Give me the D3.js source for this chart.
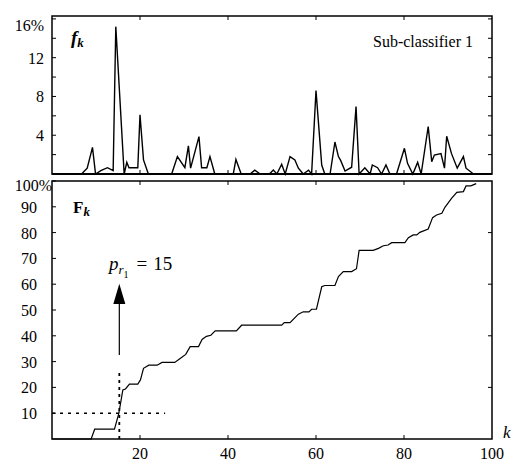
<!DOCTYPE html>
<html>
<head>
<meta charset="utf-8">
<script src="https://cdn.jsdelivr.net/npm/d3@7"></script>
<style>
  body { margin: 0; background: #fff; }
  svg text { font-family: "Liberation Serif", "Times New Roman", Times, "DejaVu Serif", serif; }
</style>
</head>
<body>
<svg id="chart" width="512" height="461"></svg>
<script>
// f_k, sub-classifier 1 (k, percent)
const fK = [1, 6.7, 8.0, 9.2, 9.9, 11.1, 12.6, 13.9, 14.5, 16.4, 17.0, 17.5, 19.5, 20.0, 20.8, 21.9,
  27.2, 28.5, 30.2, 31.0, 31.5, 33.4, 34.0, 35.2, 35.9, 37.0, 41.2, 41.8, 43.0, 45.0, 46.1, 47.3,
  49.4, 50.3, 51.1, 52.2, 53.0, 54.1, 55.2, 56.0, 57.1, 58.3, 59.0, 60.0, 61.3, 62.0, 63.2, 64.3,
  65.1, 65.6, 66.6, 68.1, 69.1, 69.8, 71.1, 72.3, 72.8, 74.0, 74.9, 75.9, 76.8, 78.3, 80.1, 80.8,
  82.0, 83.1, 83.9, 85.5, 86.3, 86.9, 88.4, 89.2, 89.7, 90.8, 92.1, 93.5, 94.1, 95.8];
const fVal = [0, 0, 0.6, 2.75, 0, 0.35, 0.65, 0.35, 15.2, 0, 1.2, 0.65, 0.65, 6.1, 1.45, 0,
  0, 1.8, 0.65, 2.9, 0.6, 3.85, 0.65, 0.65, 1.8, 0, 0, 1.5, 0, 0, 0.4, 0,
  0, 0.4, 0, 1.0, 0, 1.8, 1.45, 0.6, 0, 0.4, 0, 8.6, 0.93, 0, 0, 3.3,
  1.8, 1.4, 0.3, 0.7, 6.95, 0, 0.65, 0, 0.93, 0.65, 0, 0.93, 0, 0, 2.65, 1.1,
  0, 1.2, 0, 4.9, 1.27, 1.96, 2.1, 0.6, 3.9, 2.1, 0.6, 1.8, 0.6, 0];

// F_k cumulative (k, percent)
const FK = [0, 8.9, 9.7, 14.2, 15.2, 16.1, 16.7, 17.6, 19.5, 20.1, 20.8, 22.0, 23.9, 25.0, 27.9,
  29.2, 30.4, 31.4, 33.3, 34.1, 35.1, 36.1, 37.1, 41.9, 43.1, 52.2, 52.8, 54.1, 56.0, 57.1, 58.4,
  59.0, 60.1, 61.3, 62.0, 64.3, 65.1, 66.2, 68.1, 69.2, 69.8, 73.0, 74.2, 75.3, 76.4, 77.2, 80.2,
  81.0, 82.1, 82.9, 83.6, 85.5, 86.5, 87.4, 88.6, 89.3, 90.8, 92.0, 93.5, 94.1, 95.2, 96.4];
const FVal = [0, 0, 3.8, 3.8, 10, 19.0, 19.4, 21.3, 21.3, 22.9, 27.4, 28.6, 28.6, 29.7, 29.7,
  31.3, 32.8, 35.8, 35.8, 38.6, 39.8, 40.2, 41.9, 41.9, 44.1, 44.1, 45.1, 45.1, 48.4, 49.3, 49.3,
  50.3, 50.3, 59.0, 59.5, 59.5, 63.0, 64.9, 64.9, 66.0, 73.1, 73.1, 73.9, 74.9, 75.2, 76.1, 76.1,
  78.0, 79.1, 79.1, 80.1, 81.4, 85.8, 86.8, 87.5, 89.8, 93.3, 95.6, 95.9, 98.1, 98.1, 99.0];

const xTicks = [20, 40, 60, 80, 100];
const fLabels = [4, 8, 12, 16];
const fMinor = [2, 4, 6, 8, 10, 12, 14, 16];
const FLabels = [10, 20, 30, 40, 50, 60, 70, 80, 90, 100];
const FRight = [20, 40, 60, 80];

// marker for p_r1
const markK = 15.3;
const markLevel = 10;

const svg = d3.select("#chart");

const x = d3.scaleLinear().domain([0, 100]).range([52, 492]);
const yTop = d3.scaleLinear().domain([0, 16.3]).range([174, 16]);
const yBot = d3.scaleLinear().domain([0, 100]).range([439, 181]);

function drawFrame(y, yMinor, yRight) {
    const [y0, y1] = y.range();
    svg.append("rect")
        .attr("x", x(0)).attr("y", y1)
        .attr("width", x(100) - x(0)).attr("height", y0 - y1)
        .attr("fill", "none").attr("stroke", "#000").attr("stroke-width", 1.5);

    const g = svg.append("g").attr("stroke", "#000").attr("stroke-width", 1);
    // top and bottom ticks
    g.selectAll(".tt").data(xTicks.slice(0, 4)).enter().append("line")
        .attr("x1", d => x(d)).attr("x2", d => x(d))
        .attr("y1", y1).attr("y2", y1 + 4);
    g.selectAll(".tb").data(xTicks.slice(0, 4)).enter().append("line")
        .attr("x1", d => x(d)).attr("x2", d => x(d))
        .attr("y1", y0).attr("y2", y0 - 4);
    g.selectAll(".tl").data(yMinor).enter().append("line")
        .attr("x1", x(0)).attr("x2", x(0) + 4)
        .attr("y1", d => y(d)).attr("y2", d => y(d));
    g.selectAll(".tr").data(yRight).enter().append("line")
        .attr("x1", x(100)).attr("x2", x(100) - 4)
        .attr("y1", d => y(d)).attr("y2", d => y(d));
}

drawFrame(yTop, fMinor, fMinor);
drawFrame(yBot, FLabels, FRight);

// top panel: zero line + f_k
svg.append("line")
    .attr("x1", x(0)).attr("x2", x(100))
    .attr("y1", yTop(0)).attr("y2", yTop(0))
    .attr("stroke", "#000").attr("stroke-width", 2);

const fData = fK.map((k, i) => [k, fVal[i]]);
svg.append("path")
    .datum(fData)
    .attr("fill", "none").attr("stroke", "#000").attr("stroke-width", 1.4)
    .attr("stroke-linejoin", "miter")
    .attr("d", d3.line().x(d => x(d[0])).y(d => yTop(d[1])));

const FData = FK.map((k, i) => [k, FVal[i]]);
svg.append("path")
    .datum(FData)
    .attr("fill", "none").attr("stroke", "#000").attr("stroke-width", 1.2)
    .attr("d", d3.line().x(d => x(d[0])).y(d => yBot(d[1])));

// dashed guides
svg.append("line")
    .attr("x1", x(0)).attr("x2", x(25.7))
    .attr("y1", yBot(markLevel)).attr("y2", yBot(markLevel))
    .attr("stroke", "#000").attr("stroke-width", 1.6)
    .attr("stroke-dasharray", "3,5");
svg.append("line")
    .attr("x1", x(markK)).attr("x2", x(markK))
    .attr("y1", yBot(0)).attr("y2", yBot(26.7))
    .attr("stroke", "#000").attr("stroke-width", 1.8)
    .attr("stroke-dasharray", "3,4");

// arrow
svg.append("line")
    .attr("x1", x(markK)).attr("x2", x(markK))
    .attr("y1", yBot(32.6)).attr("y2", yBot(52.5))
    .attr("stroke", "#000").attr("stroke-width", 1.2);
svg.append("path")
    .attr("d", "M" + x(markK) + "," + yBot(60.2) +
        "L" + (x(markK) - 6) + "," + yBot(52.3) +
        "L" + (x(markK) + 6) + "," + yBot(52.3) + "Z")
    .attr("fill", "#000");

// tick labels
svg.selectAll(".fl").data(fLabels).enter().append("text")
    .attr("x", 44).attr("y", d => yTop(d) + (d === 16 ? 12 : 6))
    .attr("text-anchor", "end").attr("font-size", 16)
    .text(d => d === 16 ? d + "%" : d);

svg.selectAll(".Fl").data(FLabels).enter().append("text")
    .attr("x", 37).attr("y", d => yBot(d) + (d === 100 ? 10 : 6))
    .attr("font-size", 16)
    .each(function (d) {
        const t = d3.select(this);
        if (d === 100) {
            t.attr("x", 52).attr("text-anchor", "end").text("100%");
        } else {
            t.attr("text-anchor", "end").text(d);
        }
    });

svg.selectAll(".xl").data(xTicks).enter().append("text")
    .attr("x", d => x(d)).attr("y", 459)
    .attr("text-anchor", "middle").attr("font-size", 16)
    .text(d => d);

svg.append("text")
    .attr("x", 503).attr("y", 438)
    .attr("font-size", 17).attr("font-style", "italic")
    .text("k");

// panel titles
const ft = svg.append("text").attr("x", 71).attr("y", 44)
    .attr("font-size", 19).attr("font-weight", "bold").attr("font-style", "italic");
ft.append("tspan").text("f");
ft.append("tspan").attr("font-size", 13).attr("dy", 3).text("k");

const Ft = svg.append("text").attr("x", 73).attr("y", 213)
    .attr("font-size", 17).attr("font-weight", "bold");
Ft.append("tspan").text("F");
Ft.append("tspan").attr("font-size", 13).attr("font-style", "italic").attr("dy", 3).text("k");

svg.append("text")
    .attr("x", 473).attr("y", 47)
    .attr("text-anchor", "end").attr("font-size", 16)
    .text("Sub-classifier 1");

// p_r1 = 15
const pt = svg.append("text").attr("x", 109).attr("y", 270).attr("font-size", 19);
pt.append("tspan").attr("font-style", "italic").text("p");
pt.append("tspan").attr("font-style", "italic").attr("font-size", 13).attr("dy", 4).text("r");
pt.append("tspan").attr("font-size", 10).attr("dy", 4).text("1");
pt.append("tspan").attr("dy", -8).attr("dx", 8).text("=");
pt.append("tspan").attr("dx", 6).text("15");
</script>
</body>
</html>
